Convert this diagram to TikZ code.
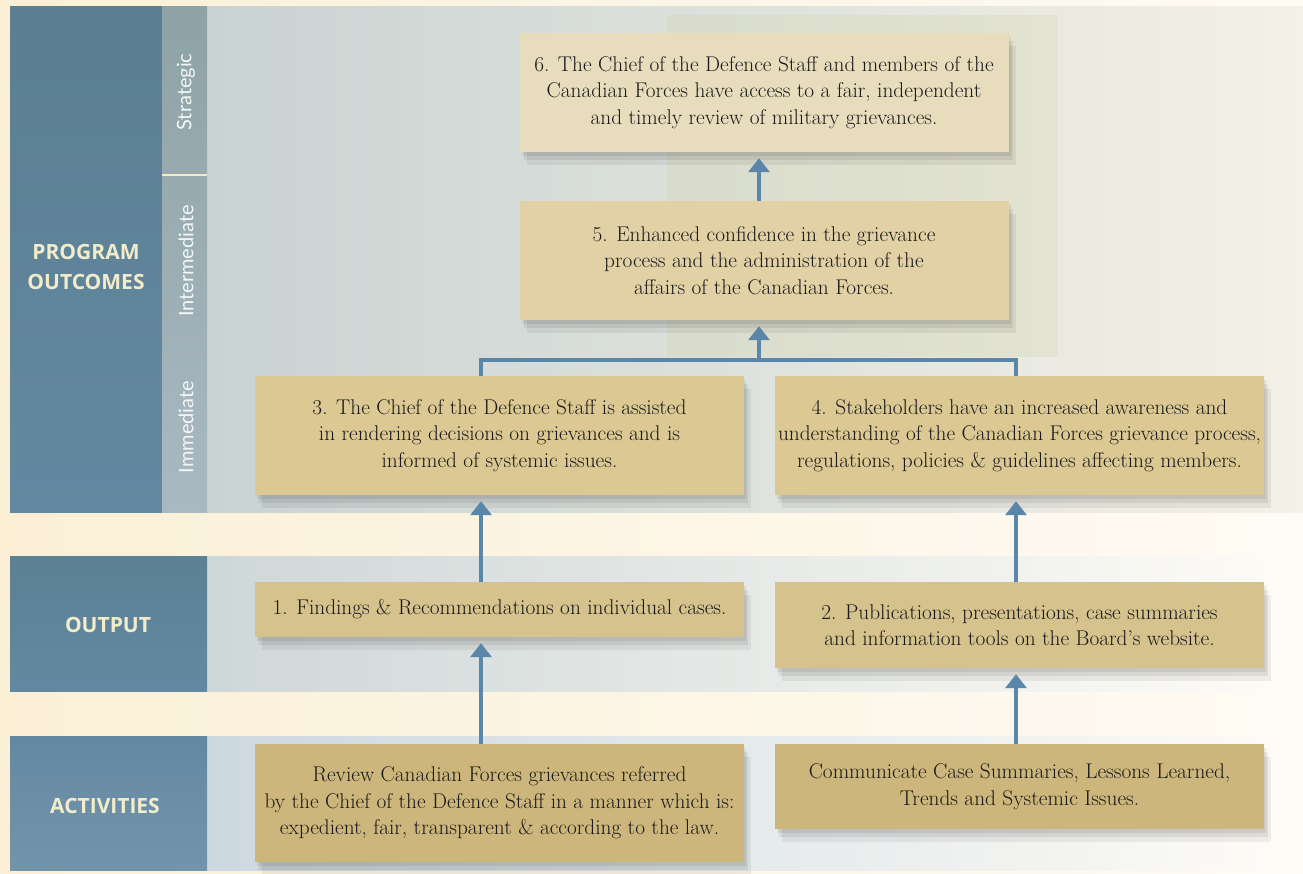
\documentclass[tikz,border=0pt]{standalone}
\usepackage{fontspec}
\newfontfamily\headfont{Open Sans}
\newfontfamily\tierfont{Lato}
\usetikzlibrary{arrows.meta,shadows}

\definecolor{cream}{HTML}{FBF0D6}
\definecolor{mist}{HTML}{C9D3D3}
\definecolor{mistlight}{HTML}{F4F1E6}
\definecolor{mistblue}{HTML}{CCD8DF}
\definecolor{panelblue}{HTML}{5A7F91}
\definecolor{panelbluelow}{HTML}{6389A2}
\definecolor{tiertop}{HTML}{8EA3A6}
\definecolor{tierlow}{HTML}{A9B9C2}
\definecolor{labelcream}{HTML}{F3ECCB}
\definecolor{arrowblue}{HTML}{5A87A9}
\definecolor{boxsix}{HTML}{E7DDBD}
\definecolor{boxfive}{HTML}{E1D1A5}
\definecolor{boxthree}{HTML}{DBC893}
\definecolor{boxone}{HTML}{D5C28C}
\definecolor{boxact}{HTML}{CDB67B}

\begin{document}
\begin{tikzpicture}[x=1pt,y=-1pt,
	goal node/.style = {rectangle, fill=#1, minimum width=489pt, inner sep=0pt,
		align=center, text=black!90, font=\fontsize{21.3}{26.5}\selectfont,
		drop shadow={shadow xshift=2pt, shadow yshift=-4pt, opacity=.07, fill=black},
		drop shadow={shadow xshift=4pt, shadow yshift=-8pt, opacity=.07, fill=black},
		drop shadow={shadow xshift=7pt, shadow yshift=-13pt, opacity=.06, fill=black}},
	head node/.style = {align=center, text=labelcream, font=\headfont\bfseries\fontsize{21}{30}\selectfont},
	tier node/.style = {rotate=90, text=white!90!tiertop, font=\tierfont\fontsize{20}{24}\selectfont},
	flow/.style = {draw=arrowblue, line width=4pt, -{Triangle[width=21pt,length=14pt]}, shorten >=6pt},
	link/.style = {draw=arrowblue, line width=4pt}]

	% background and bands
	\fill[left color=cream, right color=white!75!cream] (0,0) rectangle (1303,873);
	\fill[left color=mist, right color=mistlight] (207,6) rectangle (1303,512);
	\fill[black!10!yellow!20!mist, opacity=.35] (667,15) rectangle (1058,357);
	\fill[left color=mist!90!white, right color=white!80!cream] (207,556) rectangle (1303,691);
	\fill[left color=mistblue, right color=white!80!cream] (207,736) rectangle (1303,870);

	\fill[top color=panelblue, bottom color=panelbluelow] (10,6) rectangle (162,512);
	\fill[top color=tiertop, bottom color=tierlow] (162,6) rectangle (207,512);
	\draw[labelcream, line width=1.5pt] (162,175) -- (207,175);
	\fill[top color=panelblue!85!panelbluelow, bottom color=panelbluelow] (10,556) rectangle (207,691);
	\fill[top color=panelbluelow, bottom color=panelbluelow!90!white] (10,736) rectangle (207,870);

	\node[head node] (prog) at (86,267) {PROGRAM\\OUTCOMES};
	\node[head node] (out) at (108,625) {OUTPUT};
	\node[head node] (act) at (105,806) {ACTIVITIES};
	\node[tier node] (strat) at (186,92) {Strategic};
	\node[tier node] (inter) at (186,261) {Intermediate};
	\node[tier node] (immed) at (186,427) {Immediate};

	% boxes
	\node[goal node=boxsix, minimum height=119pt] (6) at (764,92.5)
		{6. The Chief of the Defence Staff and members of the\\
		Canadian Forces have access to a fair, independent\\
		and timely review of military grievances.};
	\node[goal node=boxfive, minimum height=119pt] (5) at (764,260.5)
		{5. Enhanced confidence in the grievance\\
		process and the administration of the\\
		affairs of the Canadian Forces.};
	\node[goal node=boxthree, minimum height=119pt] (3) at (499.5,435.5)
		{3. The Chief of the Defence Staff is assisted\\
		in rendering decisions on grievances and is\\
		informed of systemic issues.};
	\node[goal node=boxthree!95!boxone, minimum height=119pt] (4) at (1019.5,435.5)
		{4. Stakeholders have an increased awareness and\\
		understanding of the Canadian Forces grievance process,\\
		regulations, policies \& guidelines affecting members.};
	\node[goal node=boxone, minimum height=55pt] (1) at (499.5,609.5)
		{1. Findings \& Recommendations on individual cases.};
	\node[goal node=boxone, minimum height=86pt] (2) at (1019.5,625)
		{2. Publications, presentations, case summaries\\
		and information tools on the Board's website.};
	\node[goal node=boxact, minimum height=118pt] (7) at (499.5,803)
		{Review Canadian Forces grievances referred\\
		by the Chief of the Defence Staff in a manner which is:\\
		expedient, fair, transparent \& according to the law.};
	\node[goal node=boxact, minimum height=85pt] (8) at (1019.5,786.5)
		{Communicate Case Summaries, Lessons Learned,\\
		Trends and Systemic Issues.};

	% connectors
	\coordinate (j3) at (481,360);
	\coordinate (j4) at (1016,360);
	\coordinate (j5) at (759,360);
	\draw[link] (3.north -| j3) -- (j3) -- (j4) -- (4.north -| j4);
	\draw[flow] (j5) -- (5.south -| j5);
	\draw[flow] (5.north -| j5) -- (6.south -| j5);
	\draw[flow] (1.north -| j3) -- (3.south -| j3);
	\draw[flow] (2.north -| j4) -- (4.south -| j4);
	\draw[flow] (7.north -| j3) -- (1.south -| j3);
	\draw[flow] (8.north -| j4) -- (2.south -| j4);
\end{tikzpicture}
\end{document}
